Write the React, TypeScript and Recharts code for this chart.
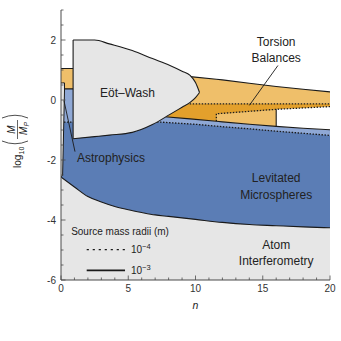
import React from 'react';
import { ComposedChart, Area, XAxis, YAxis, ReferenceLine, ReferenceDot } from 'recharts';

// ---------- axes ----------
const X_DOMAIN: [number, number] = [0, 20];
const Y_DOMAIN: [number, number] = [-6, 3];
const xTicks = [0, 1, 2, 3, 4, 5, 6, 7, 8, 9, 10, 11, 12, 13, 14, 15, 16, 17, 18, 19, 20];
const xTickLabels = [0, 5, 10, 15, 20];
const yTicks = [-6, -5.5, -5, -4.5, -4, -3.5, -3, -2.5, -2, -1.5, -1, -0.5, 0, 0.5, 1, 1.5, 2, 2.5, 3];
const yTickLabels = [-6, -4, -2, 0, 2];

// ---------- Atom interferometry bound ----------
const atomN = [0, 1, 2, 3, 4, 5, 6, 7, 8, 10, 12, 14, 16, 18, 20];
const atomY = [-2.57, -2.9, -3.22, -3.4, -3.55, -3.66, -3.75, -3.83, -3.88, -3.98, -4.08, -4.15, -4.19, -4.23, -4.26];

// ---------- Levitated microspheres, r = 1e-4 m (dotted) ----------
const levN = [0, 7.5, 10, 12, 14, 16, 18, 20];
const levY = [-0.74, -0.74, -0.81, -0.89, -0.96, -1.04, -1.11, -1.18];

// ---------- Torsion balances, r = 1e-3 m (solid) ----------
const torN = [0, 0.9, 2, 4, 6, 7.5, 9.6, 11.55, 12, 14, 16, 18, 20];
const torLow = [0.37, 0.37, 0.1, -0.2, -0.42, -0.55, -0.63, -0.71, -0.73, -0.81, -0.88, -0.94, -0.99];
const torHigh = [1.05, 1.05, 1.03, 0.98, 0.92, 0.86, 0.78, 0.69, 0.67, 0.56, 0.45, 0.36, 0.27];

// ---------- Torsion balances, r = 1e-4 m (dotted) ----------
const torDotLevel = -0.13;
const torDotStart = 6;
const torInnerN = [11.55, 16, 18, 20];
const torInnerY = [-0.46, -0.31, -0.265, -0.22];
const whiteStart = 16;

// ---------- Eöt-Wash ----------
const eotN = [0.9, 2.5, 3.6, 5.3, 6.8, 8.1, 9, 9.6, 10, 10.3];
const eotTop = [2, 2, 1.87, 1.65, 1.38, 1.15, 0.96, 0.82, 0.58, 0.25];
const eotBottom = [-1.29, -1.22, -1.17, -1.08, -0.82, -0.48, -0.24, -0.08, 0.08, 0.25];

// ---------- Astrophysics ----------
const astroN = [0, 0.12, 0.26];
const astroTop = [0.57, 0.57, 0.57];
const astroBottom = [-2.57, -2.5, 0.3];

// ---------- annotations ----------
const regionLabels = [
  { text: 'Eöt\u2013Wash', n: 4.94, y: 0.25 },
  { text: 'Torsion', n: 16, y: 1.96 },
  { text: 'Balances', n: 16, y: 1.41 },
  { text: 'Astrophysics', n: 3.72, y: -1.92 },
  { text: 'Levitated', n: 16, y: -2.59 },
  { text: 'Microspheres', n: 16, y: -3.15 },
  { text: 'Atom', n: 16, y: -4.82 },
  { text: 'Interferometry', n: 16, y: -5.37 },
];
const pointers = [
  [{ x: 16.13, y: 1.15 }, { x: 14.0, y: -0.18 }],
  [{ x: 1.04, y: -1.72 }, { x: 0.22, y: -0.02 }],
];
const legendTitle = { text: 'Source mass radii (m)', n: 4.39, y: -4.37 };
const legendEntries = [
  { exp: '\u22124', dashed: true, n0: 1.91, n1: 4.76, y: -4.99, textN: 5.2 },
  { exp: '\u22123', dashed: false, n0: 1.91, n1: 4.76, y: -5.68, textN: 5.2 },
];

// ---------- style ----------
const FONT = '"Liberation Sans", Arial, Helvetica, sans-serif';
const AXIS_COLOR = '#4a4a4a';
const TEXT = '#222';
const EDGE = '#1a1a1a';
const GRAY = '#e6e6e6';
const BLUE_DARK = '#5b7db5';
const BLUE_LIGHT = '#8fa8d5';
const ORANGE_LIGHT = '#efbf6a';
const ORANGE_DARK = '#e3a02c';
const DOT = '1.5 1.5';

const Y_MIN = Y_DOMAIN[0];

const range = (ns: number[], lo: number[] | number, hi: number[] | number) =>
  ns.map((n, i) => ({
    n,
    v: [typeof lo === 'number' ? lo : lo[i], typeof hi === 'number' ? hi : hi[i]],
  }));
const line = (ns: number[], ys: number[]) => ns.map((n, i) => ({ n, y: ys[i] }));

const torLowAt = (n: number) => torLow[torN.indexOf(n)];

const darkOrangeData = [
  ...torN
    .map((n, i) => ({ n, lo: torLow[i] }))
    .filter((p) => p.n >= torDotStart && p.n <= torInnerN[0])
    .map((p) => ({ n: p.n, v: [p.lo, torDotLevel] })),
  ...torInnerN.map((n, i) => ({ n, v: [torInnerY[i], torDotLevel] })),
];
const whiteData = torInnerN
  .map((n, i) => ({ n, hi: torInnerY[i] }))
  .filter((p) => p.n >= whiteStart)
  .map((p) => ({ n: p.n, v: [torLowAt(p.n), p.hi] }));
const innerDotLine = [
  { n: torInnerN[0], y: torLowAt(torInnerN[0]) },
  ...line(torInnerN, torInnerY),
];
const whiteEdge = [
  { n: whiteStart, y: torLowAt(whiteStart) },
  { n: whiteStart, y: torInnerY[torInnerN.indexOf(whiteStart)] },
];
const torDotLine = [
  { n: torDotStart, y: torDotLevel },
  { n: X_DOMAIN[1], y: torDotLevel },
];
const eotEdge = [
  { n: eotN[0], y: eotBottom[0] },
  { n: eotN[0], y: eotTop[0] },
];
const astroEdge = [
  { n: astroN[astroN.length - 1], y: astroBottom[astroBottom.length - 1] },
  { n: astroN[astroN.length - 1], y: astroTop[astroTop.length - 1] },
];

// ---------- ticks ----------
function BottomTick(props: any) {
  const { x, y, payload } = props;
  const v = payload.value;
  const major = xTickLabels.includes(v);
  return (
    <g>
      <line x1={x} x2={x} y1={y} y2={y - (major ? 4.5 : 2.5)} stroke={AXIS_COLOR} strokeWidth={0.8} />
      {major && (
        <text x={x} y={y + 11.5} textAnchor="middle" fontSize={10} fill="#333" fontFamily={FONT}>
          {String(v)}
        </text>
      )}
    </g>
  );
}
function TopTick(props: any) {
  const { x, y, payload } = props;
  const major = xTickLabels.includes(payload.value);
  return <line x1={x} x2={x} y1={y} y2={y + (major ? 4.5 : 2.5)} stroke={AXIS_COLOR} strokeWidth={0.8} />;
}
function LeftTick(props: any) {
  const { x, y, payload } = props;
  const v = payload.value;
  const major = yTickLabels.includes(v);
  return (
    <g>
      <line x1={x} x2={x + (major ? 4.5 : 2.5)} y1={y} y2={y} stroke={AXIS_COLOR} strokeWidth={0.8} />
      {major && (
        <text x={x - 5} y={y + 3.5} textAnchor="end" fontSize={10} fill="#333" fontFamily={FONT}>
          {String(v)}
        </text>
      )}
    </g>
  );
}
function RightTick(props: any) {
  const { x, y, payload } = props;
  const major = yTickLabels.includes(payload.value);
  return <line x1={x} x2={x - (major ? 4.5 : 2.5)} y1={y} y2={y} stroke={AXIS_COLOR} strokeWidth={0.8} />;
}

function YLabel(props: any) {
  const vb = props.viewBox || { x: 16, y: 10, width: 45, height: 270 };
  const ox = vb.x + 5;
  const oy = vb.y + 158;
  return (
    <g transform={`translate(${ox},${oy}) rotate(-90)`} fontFamily={FONT} fill={TEXT}>
      <text x={0} y={0} fontSize={10}>log</text>
      <text x={13.6} y={3} fontSize={7}>10</text>
      <path d="M 27 -19 Q 21.5 -6 27 7" fill="none" stroke={TEXT} strokeWidth={0.8} />
      <text x={38.5} y={-6} fontSize={10} fontStyle="italic" textAnchor="middle">M</text>
      <line x1={29} x2={48} y1={-3.5} y2={-3.5} stroke={TEXT} strokeWidth={0.7} />
      <text x={33} y={5.5} fontSize={10} fontStyle="italic">M</text>
      <text x={41.5} y={7.5} fontSize={7} fontStyle="italic">P</text>
      <path d="M 50 -19 Q 55.5 -6 50 7" fill="none" stroke={TEXT} strokeWidth={0.8} />
    </g>
  );
}
function XLabel(props: any) {
  const vb = props.viewBox || { x: 61, y: 280, width: 269, height: 30 };
  return (
    <text x={vb.x + vb.width / 2} y={vb.y + 29} textAnchor="middle" fontSize={10.5} fontStyle="italic" fill={TEXT} fontFamily={FONT}>
      n
    </text>
  );
}

const common = { isAnimationActive: false, dot: false, activeDot: false, type: 'linear' as const };

export default function App() {
  return (
    <div style={{ position: 'absolute', left: 0, top: 0, width: 341, height: 341, overflow: 'hidden' }}>
      <ComposedChart width={341} height={341} margin={{ top: 10, right: 11, bottom: 31, left: 16 }}>
        <XAxis
          dataKey="n" type="number" domain={X_DOMAIN} ticks={xTicks} interval={0} allowDataOverflow
          tick={<BottomTick />} tickLine={false} tickSize={0} tickMargin={0} height={30}
          axisLine={{ stroke: AXIS_COLOR }} label={<XLabel />}
        />
        <XAxis
          xAxisId="top" orientation="top" dataKey="n" type="number" domain={X_DOMAIN} ticks={xTicks} interval={0}
          allowDataOverflow tick={<TopTick />} tickLine={false} tickSize={0} tickMargin={0} height={0}
          axisLine={{ stroke: AXIS_COLOR }}
        />
        <YAxis
          type="number" domain={Y_DOMAIN} ticks={yTicks} interval={0} allowDataOverflow
          tick={<LeftTick />} tickLine={false} tickSize={0} tickMargin={0} width={45}
          axisLine={{ stroke: AXIS_COLOR }} label={<YLabel />}
        />
        <YAxis
          yAxisId="right" orientation="right" type="number" domain={Y_DOMAIN} ticks={yTicks} interval={0}
          allowDataOverflow tick={<RightTick />} tickLine={false} tickSize={0} tickMargin={0} width={0}
          axisLine={{ stroke: AXIS_COLOR }}
        />

        {/* fills */}
        <Area {...common} data={range(torN, Y_MIN, torLow)} dataKey="v" fill={BLUE_LIGHT} fillOpacity={1} stroke="none" />
        <Area {...common} data={range(levN, Y_MIN, levY)} dataKey="v" fill={BLUE_DARK} fillOpacity={1} stroke="none" />
        <Area {...common} type="monotone" data={range(atomN, Y_MIN, atomY)} dataKey="v" fill={GRAY} fillOpacity={1} stroke="none" />
        <Area {...common} data={range(torN, torLow, torHigh)} dataKey="v" fill={ORANGE_LIGHT} fillOpacity={1} stroke="none" />
        <Area {...common} data={darkOrangeData} dataKey="v" fill={ORANGE_DARK} fillOpacity={1} stroke="none" />
        <Area {...common} data={whiteData} dataKey="v" fill="#ffffff" fillOpacity={1} stroke="none" />

        {/* boundaries */}
        <Area {...common} type="monotone" data={line(atomN, atomY)} dataKey="y" fill="none" stroke={EDGE} strokeWidth={1.1} />
        <Area {...common} data={line(levN, levY)} dataKey="y" fill="none" stroke={EDGE} strokeWidth={1.3} strokeDasharray={DOT} />
        <Area {...common} data={line(torN, torLow)} dataKey="y" fill="none" stroke={EDGE} strokeWidth={1.1} />
        <Area {...common} data={line(torN, torHigh)} dataKey="y" fill="none" stroke={EDGE} strokeWidth={1.1} />
        <Area {...common} data={torDotLine} dataKey="y" fill="none" stroke={EDGE} strokeWidth={1.3} strokeDasharray={DOT} />
        <Area {...common} data={innerDotLine} dataKey="y" fill="none" stroke={EDGE} strokeWidth={1.3} strokeDasharray={DOT} />
        <Area {...common} data={whiteEdge} dataKey="y" fill="none" stroke={EDGE} strokeWidth={1.1} />

        {/* Eöt-Wash */}
        <Area {...common} type="monotone" data={range(eotN, eotBottom, eotTop)} dataKey="v" fill={GRAY} fillOpacity={1} stroke={EDGE} strokeWidth={1.1} />
        <Area {...common} data={eotEdge} dataKey="y" fill="none" stroke={EDGE} strokeWidth={1.1} />

        {/* Astrophysics */}
        <Area {...common} data={range(astroN, astroBottom, astroTop)} dataKey="v" fill={GRAY} fillOpacity={1} stroke={EDGE} strokeWidth={1} />
        <Area {...common} data={astroEdge} dataKey="y" fill="none" stroke={EDGE} strokeWidth={1} />

        {/* pointers */}
        {pointers.map((seg, i) => (
          <ReferenceLine key={`p${i}`} segment={seg} stroke={EDGE} strokeWidth={0.9} ifOverflow="visible" />
        ))}

        {/* region labels */}
        {regionLabels.map((l, i) => (
          <ReferenceDot
            key={`l${i}`} x={l.n} y={l.y} r={0} ifOverflow="visible"
            shape={(p: any) => (
              <text x={p.cx} y={p.cy} dy="0.36em" textAnchor="middle" fontSize={12} fill={TEXT} fontFamily={FONT}>
                {l.text}
              </text>
            )}
          />
        ))}

        {/* legend */}
        <ReferenceDot
          x={legendTitle.n} y={legendTitle.y} r={0} ifOverflow="visible"
          shape={(p: any) => (
            <text x={p.cx} y={p.cy} dy="0.36em" textAnchor="middle" fontSize={10} fill={TEXT} fontFamily={FONT}>
              {legendTitle.text}
            </text>
          )}
        />
        {legendEntries.map((e, i) => (
          <ReferenceLine
            key={`lg${i}`} segment={[{ x: e.n0, y: e.y }, { x: e.n1, y: e.y }]} ifOverflow="visible"
            stroke={EDGE} strokeWidth={e.dashed ? 1.2 : 1.6} strokeDasharray={e.dashed ? '2.2 3.8' : undefined}
          />
        ))}
        {legendEntries.map((e, i) => (
          <ReferenceDot
            key={`lt${i}`} x={e.textN} y={e.y} r={0} ifOverflow="visible"
            shape={(p: any) => (
              <text x={p.cx} y={p.cy} dy="0.36em" fontSize={10} fill={TEXT} fontFamily={FONT}>
                10
                <tspan fontSize={7.5} dy="-4.5">{e.exp}</tspan>
              </text>
            )}
          />
        ))}
      </ComposedChart>
    </div>
  );
}
